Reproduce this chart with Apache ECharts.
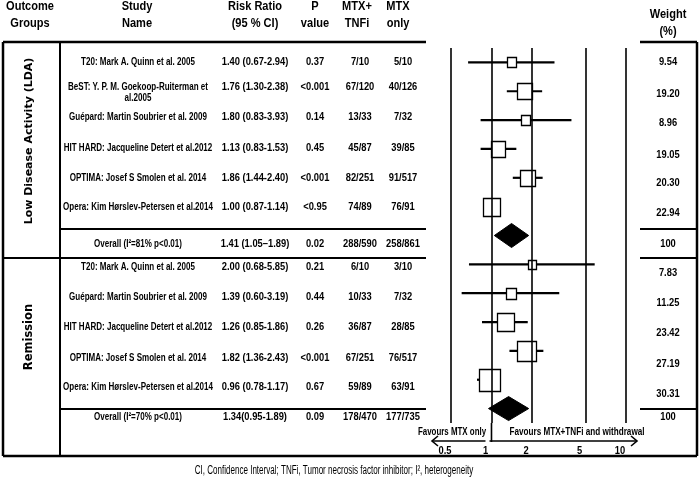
<!DOCTYPE html>
<html><head><meta charset="utf-8">
<script src="https://cdn.jsdelivr.net/npm/echarts@6/dist/echarts.min.js"></script>
<style>html,body{margin:0;padding:0;background:#fff}#c{width:700px;height:490px}</style>
</head><body><div id="c"></div>
<script>
// ---------------- data ----------------
const groupLabels = ['Low Disease Activity (LDA)', 'Remission'];
const studyNames = [
  'T20: Mark A. Quinn et al. 2005',
  'BeST: Y. P. M. Goekoop-Ruiterman et\nal.2005',
  'Guépard: Martin Soubrier et al. 2009',
  'HIT HARD: Jacqueline Detert et al.2012',
  'OPTIMA: Josef S Smolen et al. 2014',
  'Opera: Kim Hørslev-Petersen et al.2014',
  'Overall (I²=81% p<0.01)',
  'T20: Mark A. Quinn et al. 2005',
  'Guépard: Martin Soubrier et al. 2009',
  'HIT HARD: Jacqueline Detert et al.2012',
  'OPTIMA: Josef S Smolen et al. 2014',
  'Opera: Kim Hørslev-Petersen et al.2014',
  'Overall (I²=70% p<0.01)'
];
const isOverall = [0,0,0,0,0,0,1,0,0,0,0,0,1];
const riskRatio = [1.40,1.76,1.80,1.13,1.86,1.00,1.41, 2.00,1.39,1.26,1.82,0.96,1.34];
const ciLow     = [0.67,1.30,0.83,0.83,1.44,0.87,1.05, 0.68,0.60,0.85,1.36,0.78,0.95];
const ciHigh    = [2.94,2.38,3.93,1.53,2.40,1.14,1.89, 5.85,3.19,1.86,2.43,1.17,1.89];
const rrText = ['1.40 (0.67-2.94)','1.76 (1.30-2.38)','1.80 (0.83-3.93)','1.13 (0.83-1.53)','1.86 (1.44-2.40)','1.00 (0.87-1.14)','1.41 (1.05–1.89)',
                '2.00 (0.68-5.85)','1.39 (0.60-3.19)','1.26 (0.85-1.86)','1.82 (1.36-2.43)','0.96 (0.78-1.17)','1.34(0.95-1.89)'];
const pValues = ['0.37','<0.001','0.14','0.45','<0.001','<0.95','0.02','0.21','0.44','0.26','<0.001','0.67','0.09'];
const mtxTnfi = ['7/10','67/120','13/33','45/87','82/251','74/89','288/590','6/10','10/33','36/87','67/251','59/89','178/470'];
const mtxOnly = ['5/10','40/126','7/32','39/85','91/517','76/91','258/861','3/10','7/32','28/85','76/517','63/91','177/735'];
const weights = [9.54,19.20,8.96,19.05,20.30,22.94,100,7.83,11.25,23.42,27.19,30.31,100];
const weightText = ['9.54','19.20','8.96','19.05','20.30','22.94','100','7.83','11.25','23.42','27.19','30.31','100'];
const tickValues = [0.5,1,2,5,10];
const tickLabels = ['0.5','1','2','5','10'];
const headers = ['Outcome\nGroups','Study\nName','Risk Ratio\n(95 % CI)','P\nvalue','MTX+\nTNFi','MTX\nonly','Weight\n(%)'];
const favourLeft = 'Favours MTX only';
const favourRight = 'Favours MTX+TNFi and withdrawal';
const footnote = 'CI, Confidence Interval; TNFi, Tumor necrosis factor inhibitor; I², heterogeneity';

// ---------------- layout ----------------
const FF = '"Liberation Sans", Arial, sans-serif';
const textRowY   = [62, 87, 117, 148, 178, 207, 244, 267, 297, 327, 358, 387, 417];
const weightRowY = [62, 94, 123, 155, 183, 213, 244, 273, 303, 333, 364, 394, 417];
const colX = {name:138, rr:255, p:315, a:360, b:403, w:668};
const headerX = [30, 137, 255, 315, 357, 398, 668];

const chart = echarts.init(document.getElementById('c'), null, {renderer:'canvas'});
const rows = studyNames.map((n,i)=>String(i));

function renderItem(params, api){
  const row = api.value(0);
  const c = api.coord([api.value(1), row]);
  const l = api.coord([api.value(2), row]);
  const h = api.coord([api.value(3), row]);
  if (api.value(5) === 1) {
    const hh = 12;
    return {type:'polygon', shape:{points:[[l[0],c[1]],[c[0],c[1]-hh],[h[0],c[1]],[c[0],c[1]+hh]]},
            style:{fill:'#000', stroke:'#000', lineWidth:1}};
  }
  const s = 4 + 0.55*api.value(4);
  const sh = s*1.08;
  return {type:'group', children:[
    {type:'line', shape:{x1:l[0],y1:c[1],x2:h[0],y2:c[1]}, style:{stroke:'#000', lineWidth:2.2}},
    {type:'rect', shape:{x:Math.round(c[0]-s/2)+0.5, y:Math.round(c[1]-sh/2)+0.5, width:Math.round(s), height:Math.round(sh)},
     style:{fill:'#fff', stroke:'#000', lineWidth:1.3}}
  ]};
}

chart.setOption({
  animation:false,
  backgroundColor:'#fff',
  grid:{left:451, right:74, top:48, bottom:67, containLabel:false},
  xAxis:{type:'log', logBase:10, min:0.5, max:10,
    axisLine:{show:false}, axisTick:{show:false}, splitLine:{show:false}, axisLabel:{show:false}},
  yAxis:{type:'category', data:rows, inverse:true, show:false},
  series:[
    {type:'scatter', data:[], z:1, silent:true,
     markLine:{silent:true, symbol:'none', animation:false, label:{show:false},
       lineStyle:{color:'#000', width:1.6, type:'solid'},
       data:tickValues.map(v=>({xAxis:v}))}},
    {type:'custom', z:3, clip:false, renderItem,
     data: riskRatio.map((r,i)=>[i, r, ciLow[i], ciHigh[i], weights[i], isOverall[i]])}
  ]
});

// ---------------- table graphics ----------------
const G = [];
function txt(s, x, y, opt){
  opt = opt || {};
  G.push({type:'text', x, y, scaleX: opt.sx || 0.8, rotation: opt.rot || 0, silent:true, z:10,
    style:{text:s, x:0, y:0, textAlign: opt.align || 'center', textVerticalAlign:'middle',
      font:(opt.weight||'bold')+' '+(opt.size||11)+'px '+(opt.family||FF), fill:'#000', lineHeight: opt.lh || 11}});
}
function ln(x1,y1,x2,y2,w){
  G.push({type:'line', silent:true, z:9, shape:{x1,y1,x2,y2}, style:{stroke:'#000', lineWidth:w||2}});
}
// headers
headers.forEach((h,i)=>{
  const isW = i===6;
  txt(h, headerX[i], isW ? 23 : 15, {size:13, sx:0.85, lh:17});
});
// rows
studyNames.forEach((n,i)=>{
  const lines = n.split('\n').length;
  txt(n, colX.name, textRowY[i] + (lines-1)*5.5, {sx:0.73});
  txt(rrText[i], colX.rr, textRowY[i], {sx:0.85});
  txt(pValues[i], colX.p, textRowY[i], {sx:0.85});
  txt(mtxTnfi[i], colX.a, textRowY[i], {sx:0.85});
  txt(mtxOnly[i], colX.b, textRowY[i], {sx:0.85});
  txt(weightText[i], colX.w, weightRowY[i], {sx:0.85});
});
// group labels
txt(groupLabels[0], 29, 141, {rot:Math.PI/2, size:11, sx:1, family:'"DejaVu Sans", sans-serif'});
txt(groupLabels[1], 29, 337, {rot:Math.PI/2, size:11.5, sx:1, family:'"DejaVu Sans", sans-serif'});
// borders
const L=3, R=697, T=42, B=456, GX=60, TR=426, WL=640;
ln(L,T,TR,T,2.5); ln(WL,T,R,T,2.5);
ln(L,B,R,B,2.5);
ln(L,T,L,B,2.5); ln(R,T,R,B,2.5); ln(GX,T,GX,B,2);
ln(GX,229,TR,229); ln(WL,229,R,229);
ln(L,258,TR,258); ln(WL,258,R,258);
ln(GX,409,TR,409); ln(WL,409,R,409);
// axis tick labels placed through the x scale
tickValues.forEach((v,i)=>{
  const px = chart.convertToPixel({xAxisIndex:0}, v);
  txt(tickLabels[i], px-6, 451, {sx:0.85});
});
// favours annotations
const x1 = chart.convertToPixel({xAxisIndex:0}, 1);
ln(x1, 423, x1, 442, 1.6);
txt(favourLeft, 452, 432, {sx:0.72});
txt(favourRight, 577, 432, {sx:0.74});
ln(x1-6, 441, 432, 441, 1.6);
G.push({type:'polyline', silent:true, z:9, shape:{points:[[438,436],[432,441],[438,446]]}, style:{stroke:'#000', lineWidth:1.6, fill:null}});
ln(x1-2, 441, 637, 441, 1.6);
G.push({type:'polyline', silent:true, z:9, shape:{points:[[631,436],[637,441],[631,446]]}, style:{stroke:'#000', lineWidth:1.6, fill:null}});
// footnote
txt(footnote, 334, 471, {weight:'normal', size:12, sx:0.67});

chart.setOption({graphic:{elements:G}});
</script>
</body></html>
